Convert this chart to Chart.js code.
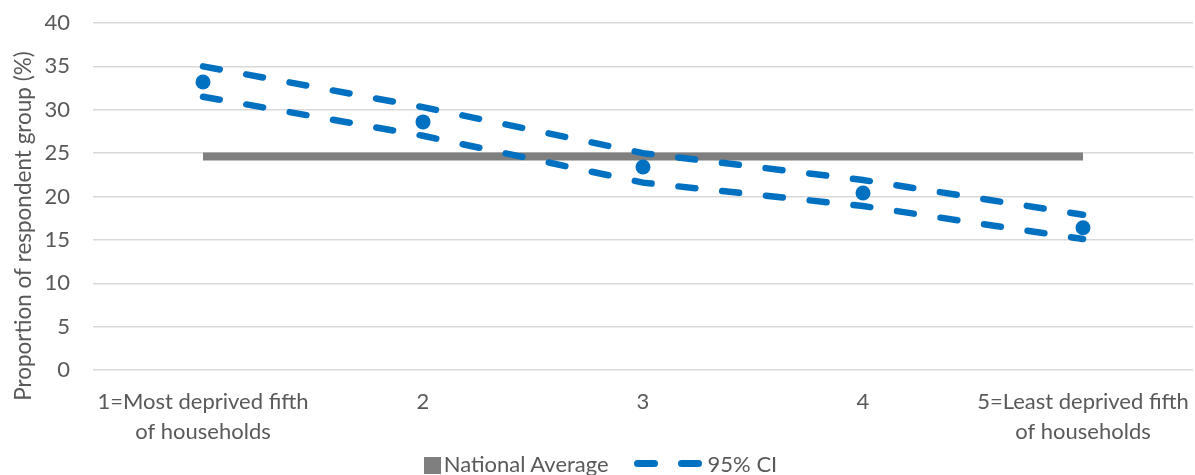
<!DOCTYPE html>
<html>
<head>
<meta charset="utf-8">
<script src="https://cdn.jsdelivr.net/npm/chart.js@4/dist/chart.umd.min.js"></script>
<style>
    body { margin: 0; background: #fff; }
    #wrap { position: relative; width: 1195px; height: 475px; overflow: hidden; }
    #legend { position: absolute; left: 6px; right: 0; top: 450px; text-align: center; font: 22px Lato, sans-serif; color: #595959; white-space: nowrap; }
    #legend .sq { display: inline-block; width: 17px; height: 17px; background: #7f7f7f; margin-right: 3px; vertical-align: -2px; }
    #legend .dash { display: inline-block; width: 24px; height: 7px; border-radius: 4px; background: #0070c0; vertical-align: 5px; }
</style>
</head>
<body>
<div id="wrap">
    <canvas id="chart" width="1195" height="475"></canvas>
    <div id="legend">
        <span class="sq"></span>National Average
        <span style="display:inline-block;width:14px"></span>
        <span class="dash"></span><span style="display:inline-block;width:20px"></span><span class="dash"></span>
        <span style="margin-left:0">95% CI</span>
    </div>
</div>
<script>
// categories (quintiles of household deprivation)
const categories = [
    ['1=Most deprived fifth', 'of households'],
    '2',
    '3',
    '4',
    ['5=Least deprived fifth', 'of households']
];

// proportion of respondent group (%)
const proportion = [33.2, 28.6, 23.4, 20.4, 16.4];
const upperCI = [35.0, 30.3, 25.0, 21.9, 17.9];
const lowerCI = [31.5, 27.0, 21.6, 18.9, 15.1];
const nationalAverage = [24.6, 24.6, 24.6, 24.6, 24.6];

const yTitle = 'Proportion of respondent group (%)';

const blue = '#0070c0';
const grey = '#7f7f7f';
const textColor = '#595959';

// y axis title is drawn by hand so it can sit lower, like the original
const yTitlePlugin = {
    id: 'yTitle',
    afterDraw(chart) {
        const ctx = chart.ctx;
        ctx.save();
        ctx.translate(24, 226);
        ctx.rotate(-Math.PI / 2);
        ctx.font = '22.5px Lato, sans-serif';
        ctx.fillStyle = textColor;
        ctx.textAlign = 'center';
        ctx.textBaseline = 'middle';
        ctx.fillText(yTitle, 0, 0);
        ctx.restore();
    }
};

const ciStyle = {
    borderColor: blue,
    borderWidth: 6.5,
    borderDash: [17, 27],
    borderCapStyle: 'round',
    pointRadius: 0,
    fill: false,
    tension: 0
};

new Chart(document.getElementById('chart').getContext('2d'), {
    type: 'line',
    data: {
        labels: categories,
        datasets: [
            {
                label: 'Proportion',
                data: proportion,
                showLine: false,
                pointRadius: 7.5,
                pointBackgroundColor: blue,
                pointBorderWidth: 0,
                order: 0
            },
            Object.assign({ label: 'Upper 95% CI', data: upperCI, order: 1 }, ciStyle),
            Object.assign({ label: 'Lower 95% CI', data: lowerCI, order: 1 }, ciStyle),
            {
                label: 'National Average',
                data: nationalAverage,
                borderColor: grey,
                borderWidth: 8,
                borderCapStyle: 'butt',
                pointRadius: 0,
                order: 3
            }
        ]
    },
    options: {
        responsive: false,
        animation: false,
        layout: { autoPadding: false, padding: { top: 23, right: 2, bottom: 30, left: 0 } },
        plugins: {
            legend: { display: false },
            tooltip: { enabled: false }
        },
        scales: {
            x: {
                offset: true,
                grid: { display: false },
                border: { display: false },
                ticks: {
                    color: textColor,
                    font: { family: 'Lato', size: 22, lineHeight: 1.36 },
                    padding: 9,
                    maxRotation: 0
                },
                afterFit(scale) {
                    scale.height = 75;
                    scale.paddingLeft = 0;
                    scale.paddingRight = 0;
                }
            },
            y: {
                min: 0,
                max: 40,
                ticks: {
                    stepSize: 5,
                    color: textColor,
                    font: { family: 'Lato', size: 22 },
                    padding: 23
                },
                grid: { color: '#d9d9d9', lineWidth: 1.5, drawTicks: false },
                border: { display: false },
                afterFit(scale) {
                    scale.width = 93;
                    scale.paddingTop = 0;
                    scale.paddingBottom = 0;
                }
            }
        }
    },
    plugins: [yTitlePlugin]
});
</script>
</body>
</html>
